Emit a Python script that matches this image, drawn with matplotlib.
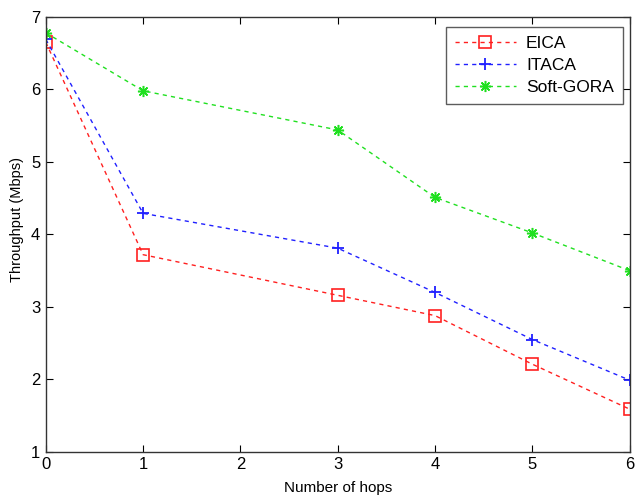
import numpy as np
import matplotlib.pyplot as plt

plt.rcParams['font.family'] = ['Liberation Sans', 'DejaVu Sans']

# data
hops = [0, 1, 3, 4, 5, 6]
eica = [6.65, 3.72, 3.16, 2.88, 2.21, 1.59]
itaca = [6.69, 4.29, 3.81, 3.20, 2.55, 1.99]
soft_gora = [6.78, 5.98, 5.44, 4.51, 4.02, 3.50]

fig = plt.figure(figsize=(6.36, 4.95), dpi=100)
ax = fig.add_axes([0.072, 0.087, 0.918, 0.879])

ax.plot(hops, eica, color='#ff2020', linestyle=(0, (3, 3)), linewidth=1.0,
        marker='s', markersize=8, markerfacecolor='none', markeredgecolor='#ff2020',
        markeredgewidth=1.2, label='EICA')
ax.plot(hops, itaca, color='#2020ff', linestyle=(0, (3, 3)), linewidth=1.0,
        marker='+', markersize=9, markeredgewidth=1.3, label='ITACA')
ax.plot(hops, soft_gora, color='#20e020', linestyle=(0, (3, 3)), linewidth=1.0,
        marker=(8, 2, 0), markersize=8, markeredgewidth=1.1, label='Soft-GORA')

ax.set_xlim(0, 6)
ax.set_ylim(1, 7)
ax.set_xticks(range(0, 7))
ax.set_yticks(range(1, 8))
ax.tick_params(direction='in', top=True, right=True, labelsize=12, length=5, pad=4)
for s in ax.spines.values():
    s.set_linewidth(1.0)
    s.set_color('#333333')

ax.set_xlabel('Number of hops', fontsize=11, labelpad=6)
ax.set_ylabel('Throughput (Mbps)', fontsize=10.5)
ax.yaxis.set_label_coords(-0.038, 0.535)

leg = ax.legend(loc='upper right', fontsize=12.5, fancybox=False, edgecolor='#333333',
                handlelength=3.5, borderpad=0.5, labelspacing=0.4, handletextpad=0.6,
                borderaxespad=0, bbox_to_anchor=(0.988, 0.977))
leg.get_frame().set_linewidth(1.0)

plt.savefig('out.png')
